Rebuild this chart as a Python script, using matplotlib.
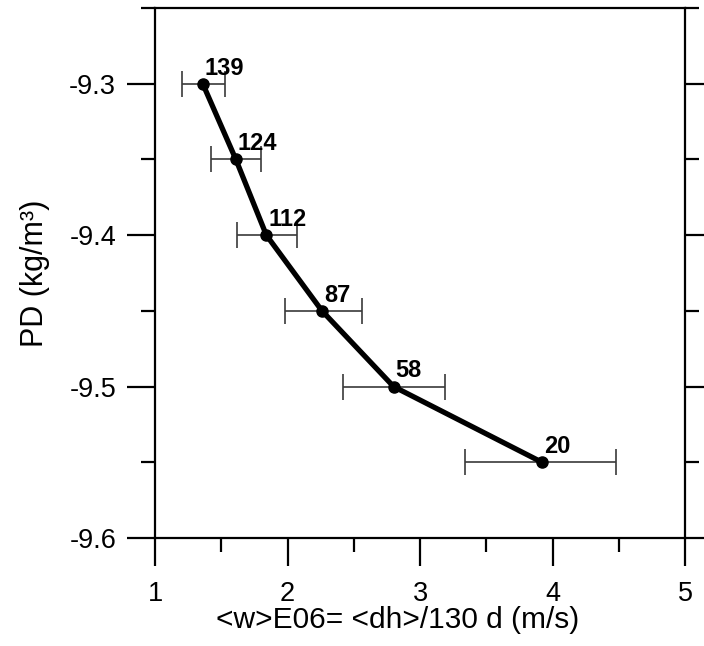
import matplotlib.pyplot as plt
import numpy as np
from matplotlib.ticker import MultipleLocator

plt.rcParams['font.family'] = ['Liberation Sans', 'DejaVu Sans']

# mean vertical speed vs potential density, labelled with number of samples
w = [1.36, 1.61, 1.84, 2.26, 2.80, 3.92]
pd = [-9.30, -9.35, -9.40, -9.45, -9.50, -9.55]
err_lo = [0.16, 0.19, 0.22, 0.28, 0.38, 0.58]
err_hi = [0.17, 0.19, 0.23, 0.30, 0.39, 0.56]
counts = ['139', '124', '112', '87', '58', '20']

fig = plt.figure(figsize=(7.04, 6.46), dpi=100)
ax = fig.add_axes([0.2202, 0.1672, 0.753, 0.8204])

ax.errorbar(w, pd, xerr=[err_lo, err_hi], fmt='none', ecolor='#3a3a3a',
            elinewidth=1.2, capsize=9.5, capthick=1.2, zorder=2)
ax.plot(w, pd, '-', color='black', lw=3.8, zorder=3)
ax.plot(w, pd, 'o', color='black', ms=8, zorder=4)

for xi, yi, c in zip(w, pd, counts):
    ax.annotate(c, (xi, yi), xytext=(1.5, 3), textcoords='offset points',
                fontsize=17, fontweight='bold', ha='left', va='bottom')

ax.set_xlim(1, 5)
ax.set_ylim(-9.6, -9.25)
ax.xaxis.set_major_locator(MultipleLocator(1))
ax.xaxis.set_minor_locator(MultipleLocator(0.5))
ax.yaxis.set_major_locator(MultipleLocator(0.1))
ax.yaxis.set_minor_locator(MultipleLocator(0.05))
ax.yaxis.set_major_formatter(plt.FuncFormatter(lambda v, p: '%.1f' % v))

ax.tick_params(which='major', direction='out', length=20, width=1.6,
               labelsize=19.5)
ax.tick_params(which='minor', direction='out', length=10, width=1.6)
ax.tick_params(axis='y', which='both', left=True, right=True)
ax.tick_params(axis='y', which='major', pad=8)
ax.tick_params(axis='x', which='both', top=False)
ax.tick_params(axis='x', which='major', pad=11)
for s in ax.spines.values():
    s.set_linewidth(1.6)

ax.set_xlabel('<w>E06= <dh>/130 d (m/s)', fontsize=21.5, labelpad=-1)
ax.xaxis.label.set_x(0.458)
ax.set_ylabel('PD (kg/m\u00b3)', fontsize=22, labelpad=14)

fig.savefig('out.png', dpi=100)
